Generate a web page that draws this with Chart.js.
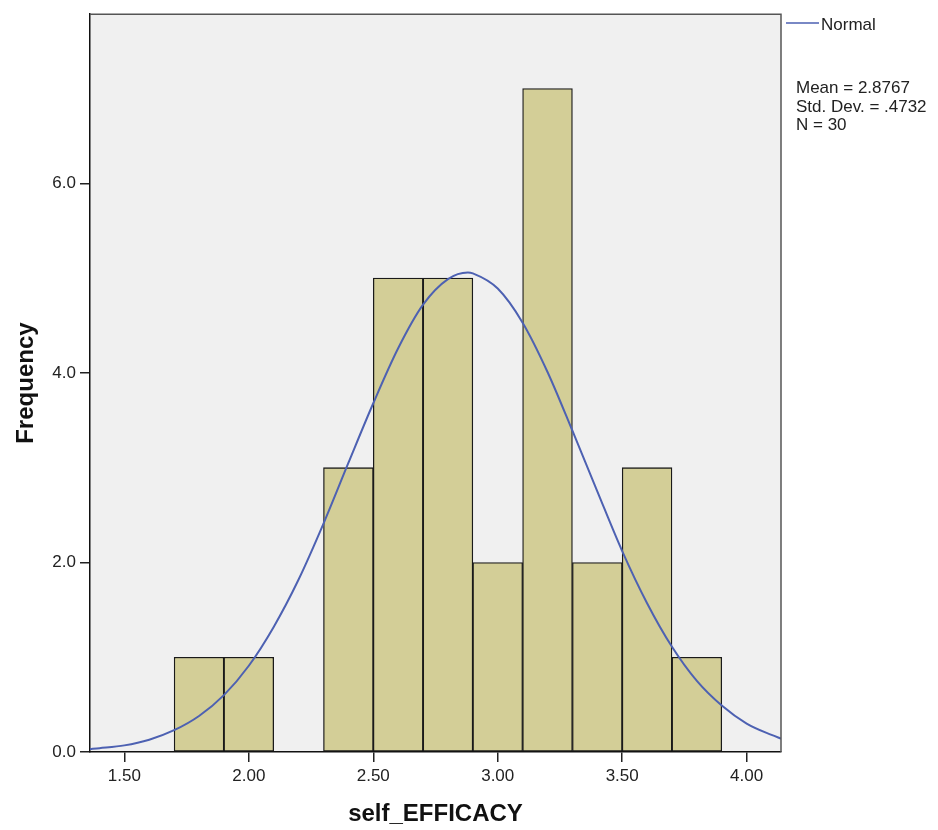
<!DOCTYPE html>
<html>
<head>
<meta charset="utf-8">
<title>self_EFFICACY histogram</title>
<script src="https://cdn.jsdelivr.net/npm/chart.js@4.4.1/dist/chart.umd.min.js"></script>
<style>
  html, body { margin: 0; padding: 0; background: #fff; }
  canvas { display: block; }
</style>
</head>
<body>
<canvas id="histChart" width="938" height="830"></canvas>
<script>
// histogram bins (centre of each 0.2 wide bin) and counts
const binCenters = [1.8, 2.0, 2.2, 2.4, 2.6, 2.8, 3.0, 3.2, 3.4, 3.6, 3.8];
const binCounts  = [1, 1, 0, 3, 5, 5, 2, 7, 2, 3, 1];

// normal curve
const curveX = [1.36, 1.40, 1.50, 1.60, 1.70, 1.80, 1.90, 2.00, 2.10, 2.20, 2.30, 2.40, 2.50, 2.60, 2.70, 2.80, 2.88,
                2.90, 3.00, 3.10, 3.20, 3.30, 3.40, 3.50, 3.60, 3.70, 3.80, 3.90, 4.00, 4.10, 4.14];
const curveY = [0.03, 0.04, 0.07, 0.13, 0.23, 0.38, 0.60, 0.91, 1.32, 1.82, 2.41, 3.05, 3.68, 4.26, 4.72, 4.99, 5.06,
                5.05, 4.89, 4.53, 4.01, 3.39, 2.75, 2.12, 1.57, 1.11, 0.75, 0.49, 0.30, 0.18, 0.14];

const xTicks = [1.5, 2.0, 2.5, 3.0, 3.5, 4.0];
const yTicks = [0, 2, 4, 6];
const statLines = ["Mean = 2.8767", "Std. Dev. = .4732", "N = 30"];

const FONT = "'Liberation Sans', Arial, sans-serif";
const BAR_FILL = "#d3ce97";
const CURVE_COLOR = "#4d61b2";

const plotDecor = {
    id: "plotDecor",
    beforeDraw(chart) {
        const { ctx, chartArea: a } = chart;
        ctx.save();
        ctx.fillStyle = "#f0f0f0";
        ctx.fillRect(a.left, a.top, a.right - a.left, a.bottom - a.top);
        ctx.restore();
    },
    afterDraw(chart) {
        const { ctx, chartArea: a } = chart;
        ctx.save();
        // top / right frame
        ctx.strokeStyle = "#555";
        ctx.lineWidth = 1.5;
        ctx.beginPath();
        ctx.moveTo(a.left, a.top);
        ctx.lineTo(a.right, a.top);
        ctx.lineTo(a.right, a.bottom);
        ctx.stroke();

        // legend: Normal
        ctx.strokeStyle = CURVE_COLOR;
        ctx.lineWidth = 1.5;
        ctx.beginPath();
        ctx.moveTo(a.right + 5, 23);
        ctx.lineTo(a.right + 38, 23);
        ctx.stroke();
        ctx.fillStyle = "#222";
        ctx.font = "17px " + FONT;
        ctx.textBaseline = "middle";
        ctx.fillText("Normal", a.right + 40, 25);

        // stats
        ctx.textBaseline = "alphabetic";
        statLines.forEach((t, i) => ctx.fillText(t, a.right + 15, 93 + i * 18.5));
        ctx.restore();
    }
};

const ctx = document.getElementById("histChart").getContext("2d");
new Chart(ctx, {
    type: "bar",
    data: {
        datasets: [{
            type: "line",
            label: "Normal",
            data: curveX.map((x, i) => ({ x: x, y: curveY[i] })),
            borderColor: CURVE_COLOR,
            borderWidth: 2,
            pointRadius: 0,
            fill: false,
            cubicInterpolationMode: "monotone",
            order: 0
        }, {
            type: "bar",
            label: "self_EFFICACY",
            data: binCenters.map((x, i) => ({ x: x, y: binCounts[i] })),
            backgroundColor: BAR_FILL,
            borderColor: "#1a1a1a",
            borderWidth: 1.3,
            borderSkipped: false,
            barPercentage: 1,
            categoryPercentage: 1,
            order: 1
        }]
    },
    options: {
        responsive: false,
        animation: false,
        layout: { padding: { top: 12, right: 157, left: 0, bottom: 0 } },
        plugins: {
            legend: { display: false },
            tooltip: { enabled: false }
        },
        scales: {
            x: {
                type: "linear",
                min: 1.362,
                max: 4.138,
                offset: false,
                afterBuildTicks: (s) => { s.ticks = xTicks.map(v => ({ value: v })); },
                afterFit: (s) => { s.height = 78; },
                ticks: {
                    padding: 4,
                    color: "#222",
                    font: { family: FONT, size: 17 },
                    maxRotation: 0,
                    callback: (v) => Number(v).toFixed(2)
                },
                grid: { offset: false, drawOnChartArea: false, drawTicks: true, tickLength: 10, color: "#222", lineWidth: 1.5 },
                border: { display: true, color: "#111", width: 1.5 },
                title: {
                    display: true,
                    text: "self_EFFICACY",
                    color: "#111",
                    font: { family: FONT, size: 24, weight: "bold" },
                    padding: { top: 0, bottom: 1 }
                }
            },
            y: {
                min: 0,
                max: 7.785,
                afterBuildTicks: (s) => { s.ticks = yTicks.map(v => ({ value: v })); },
                afterFit: (s) => { s.width = 90; },
                ticks: {
                    padding: 4,
                    color: "#222",
                    font: { family: FONT, size: 17 },
                    callback: (v) => Number(v).toFixed(1)
                },
                grid: { drawOnChartArea: false, drawTicks: true, tickLength: 10, color: "#222", lineWidth: 1.5 },
                border: { display: true, color: "#111", width: 1.5 },
                title: {
                    display: true,
                    text: "Frequency",
                    color: "#111",
                    font: { family: FONT, size: 24, weight: "bold" },
                    padding: { top: 12, bottom: 0 }
                }
            }
        }
    },
    plugins: [plotDecor]
});
</script>
</body>
</html>
